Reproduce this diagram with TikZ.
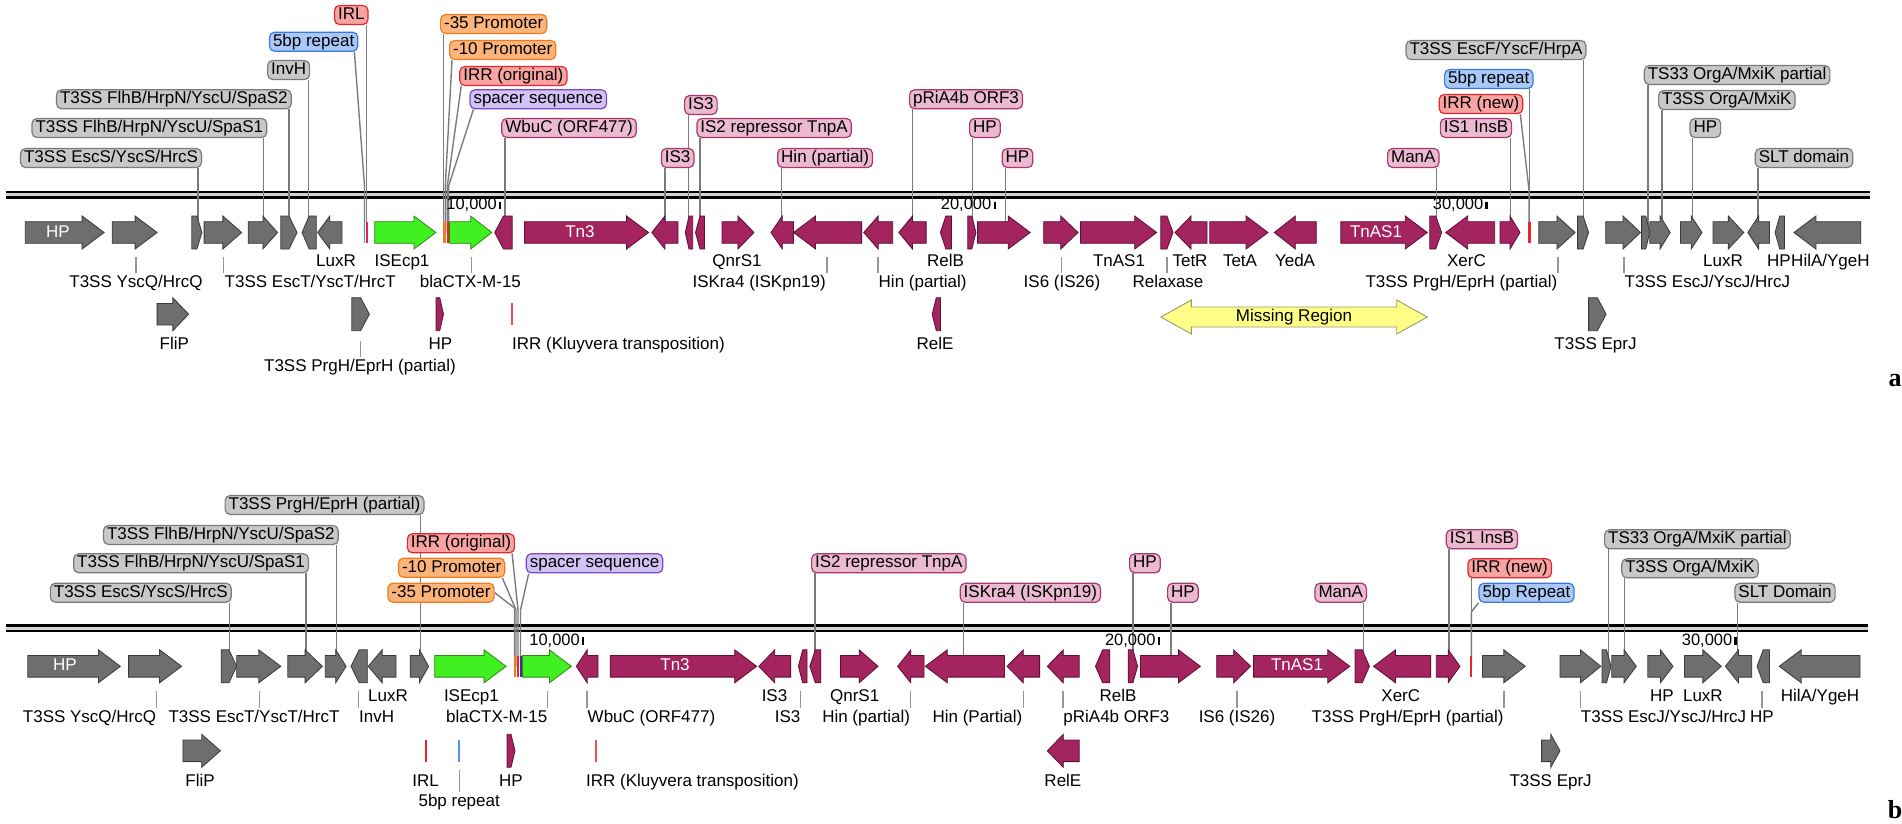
\documentclass[tikz,border=0pt]{standalone}
\usepackage{fontspec}
\setmainfont{Liberation Sans}
\newfontfamily\serifbf{Liberation Serif}
\usetikzlibrary{calc}
\pgfdeclarelayer{bg}
\pgfdeclarelayer{lead}
\pgfsetlayers{bg,lead,main}
\definecolor{gGrey}{HTML}{6E6E6E}
\definecolor{gGreyB}{HTML}{3A3A3A}
\definecolor{gMar}{HTML}{A3245E}
\definecolor{gMarB}{HTML}{5E0F34}
\definecolor{gGrn}{HTML}{40F020}
\definecolor{gGrnB}{HTML}{2C8A14}
\definecolor{lGreyF}{HTML}{C8C8C8}
\definecolor{lGreyB}{HTML}{7A7A7A}
\definecolor{lPinkF}{HTML}{EBB9D0}
\definecolor{lPinkB}{HTML}{A8386E}
\definecolor{lRedF}{HTML}{F9A3A3}
\definecolor{lRedB}{HTML}{E0282E}
\definecolor{lOrF}{HTML}{FDB47A}
\definecolor{lOrB}{HTML}{F07A20}
\definecolor{lBlueF}{HTML}{AAC8F7}
\definecolor{lBlueB}{HTML}{3C78DC}
\definecolor{lPurF}{HTML}{D5C2F5}
\definecolor{lPurB}{HTML}{7A48C8}
\definecolor{leadC}{HTML}{7C7C7C}
\definecolor{mRed}{HTML}{E8262B}
\definecolor{mBlue}{HTML}{5B8FF0}
\definecolor{mOr}{HTML}{F07A20}
\definecolor{mPur}{HTML}{4A2A90}
\definecolor{yelF}{HTML}{FFFF88}
\definecolor{yelB}{HTML}{9A9A70}
\newcommand\fs{\fontsize{17}{20}\selectfont}
\newcommand\fsn{\fontsize{16.5}{19}\selectfont}
\tikzset{
  gg/.style={fill=gGrey,draw=gGreyB,line width=0.8},
  gm/.style={fill=gMar,draw=gMarB,line width=0.8},
  gn/.style={fill=gGrn,draw=gGrnB,line width=0.8},
  lbase/.style={rounded corners=5pt,line width=1.2,inner xsep=3.5pt,inner ysep=1.5pt,text height=12.5pt,text depth=3.5pt,font=\fs},
  lgrey/.style={lbase,fill=lGreyF,draw=lGreyB},
  lpink/.style={lbase,fill=lPinkF,draw=lPinkB},
  lred/.style={lbase,fill=lRedF,draw=lRedB},
  lorange/.style={lbase,fill=lOrF,draw=lOrB},
  lblue/.style={lbase,fill=lBlueF,draw=lBlueB},
  lpurple/.style={lbase,fill=lPurF,draw=lPurB},
  lead/.style={draw=leadC,line width=1.4},
  ticklead/.style={draw=leadC!80,line width=1.3},
  txt/.style={inner sep=0pt,text height=12.5pt,text depth=3.5pt,font=\fs},
  gtext/.style={txt,text=white},
  numtxt/.style={inner sep=0pt,font=\fsn},
  ticknum/.style={line width=2.4},
  mred/.style={draw=mRed,line width=2.4},
  mredthin/.style={draw=mRed!80,line width=1.5},
  mblue/.style={draw=mBlue,line width=1.5},
  mor/.style={draw=mOr,line width=2.6},
  mpur/.style={draw=mPur,line width=2.2},
}
% right-pointing gene: x0 x1 y style
\newcommand\gr[4]{%
  \pgfmathsetmacro\gL{#2-(#1)}%
  \pgfmathsetmacro\gH{min(22,0.5*\gL)}%
  \pgfmathsetmacro\gB{#2-\gH}%
  \ifdim\gL pt<18pt
    \draw[#4] (#1,#3-16.5) -- (\gB,#3-16.5) -- (#2,#3) -- (\gB,#3+16.5) -- (#1,#3+16.5) -- cycle;
  \else
    \draw[#4] (#1,#3-10.8) -- (\gB,#3-10.8) -- (\gB,#3-16.5) -- (#2,#3) -- (\gB,#3+16.5) -- (\gB,#3+10.8) -- (#1,#3+10.8) -- cycle;
  \fi}
% left-pointing gene
\newcommand\gl[4]{%
  \pgfmathsetmacro\gL{#2-(#1)}%
  \pgfmathsetmacro\gH{min(22,0.5*\gL)}%
  \pgfmathsetmacro\gB{#1+\gH}%
  \ifdim\gL pt<18pt
    \draw[#4] (#2,#3-16.5) -- (\gB,#3-16.5) -- (#1,#3) -- (\gB,#3+16.5) -- (#2,#3+16.5) -- cycle;
  \else
    \draw[#4] (#2,#3-10.8) -- (\gB,#3-10.8) -- (\gB,#3-16.5) -- (#1,#3) -- (\gB,#3+16.5) -- (\gB,#3+10.8) -- (#2,#3+10.8) -- cycle;
  \fi}
\newcommand\mk[3]{\draw[#3] (#1,#2-10.8) -- (#1,#2+10.8);}
% top label with straight leader: name anchor x y style text leaderx geneY
\newcommand\tl[8]{%
  \node[#5,anchor=#2] (#1) at (#3,#4) {#6};
  \coordinate (#1-g) at (#7,#8);
  \begin{pgfonlayer}{lead}\draw[lead] (#1-g |- #1.south) -- (#1-g);\end{pgfonlayer}}
\newcommand\tn[6]{\node[#5,anchor=#2] (#1) at (#3,#4) {#6};}
\newcommand\tx[5]{\node[txt,anchor=#2] (#1) at (#3,#4) {#5};}
% label with tick: name anchor x y text tickx ticktop
\newcommand\rl[7]{%
  \node[txt,anchor=#2] (#1) at (#3,#4) {#5};
  \coordinate (#1-t) at (#6,#7);
  \draw[ticklead] (#1-t) -- ($(#1-t |- #1.north)+(0,-1.5)$);}
\begin{document}
\begin{tikzpicture}[x=1pt,y=-1pt]
\useasboundingbox (0,0) rectangle (1902,823);
% ---------------- background and backbones
\begin{pgfonlayer}{bg}
\fill[white] (0,0) rectangle (1902,823);
\fill[gray!35] (6,193) rectangle (1870,197);
\draw[line width=2.6] (6,192) -- (1870,192);
\draw[line width=2.6] (6,197.6) -- (1870,197.6);
\fill[gray!35] (6,626.5) rectangle (1868,630.5);
\draw[line width=2.6] (6,625.5) -- (1868,625.5);
\draw[line width=2.6] (6,631.1) -- (1868,631.1);
\end{pgfonlayer}
% scale numbers
\node[numtxt,anchor=east] (an1) at (497,205) {10,000};
\draw[ticknum] (500,201.5) -- (500,208.5);
\node[numtxt,anchor=east] (an2) at (991.5,205) {20,000};
\draw[ticknum] (994.7,201.5) -- (994.7,208.5);
\node[numtxt,anchor=east] (an3) at (1483.5,205) {30,000};
\draw[ticknum] (1486.5,201.5) -- (1486.5,208.5);
\node[numtxt,anchor=east] (bn1) at (580,641) {10,000};
\draw[ticknum] (582.9,636.5) -- (582.9,644.5);
\node[numtxt,anchor=east] (bn2) at (1155.7,641) {20,000};
\draw[ticknum] (1158.8,636.5) -- (1158.8,644.5);
\node[numtxt,anchor=east] (bn3) at (1732.5,641) {30,000};
\draw[ticknum] (1735.5,636.5) -- (1735.5,644.5);

% ================= PANEL A top labels
\tl{aIRL}{east}{368.6}{15}{lred}{IRL}{366.6}{232.5}
\tl{aP35}{west}{440}{24}{lorange}{-35 Promoter}{443.5}{232.5}
\tn{aRep5}{east}{358.4}{41.7}{lblue}{5bp repeat}
\tn{aP10}{west}{449}{50}{lorange}{-10 Promoter}
\tl{aInvH}{east}{310.2}{70}{lgrey}{InvH}{308.6}{232.5}
\tn{aIRRo}{west}{459.2}{76}{lred}{IRR (original)}
\tl{aSpaS2}{east}{291.8}{99.3}{lgrey}{T3SS FlhB/HrpN/YscU/SpaS2}{289}{232.5}
\tn{aSpc}{west}{469.4}{99.3}{lpurple}{spacer sequence}
\tl{aSpaS1}{east}{267.3}{128}{lgrey}{T3SS FlhB/HrpN/YscU/SpaS1}{263.3}{232.5}
\tl{aWbuC}{west}{501.2}{128}{lpink}{WbuC (ORF477)}{504.9}{232.5}
\tl{aEscS}{east}{202}{158}{lgrey}{T3SS EscS/YscS/HrcS}{198}{232.5}
\tl{aIS3u}{west}{684}{105}{lpink}{IS3}{688.2}{232.5}
\tl{aIS3l}{west}{660.8}{158}{lpink}{IS3}{664.9}{232.5}
\tl{aIS2}{west}{696.3}{128}{lpink}{IS2 repressor TnpA}{700}{232.5}
\tl{aHin}{west}{777.1}{158}{lpink}{Hin (partial)}{781.2}{232.5}
\tl{aORF3}{west}{909}{99.3}{lpink}{pRiA4b ORF3}{912.2}{232.5}
\tl{aHPt1}{west}{969}{128}{lpink}{HP}{972.7}{232.5}
\tl{aHPt2}{west}{1001.6}{158}{lpink}{HP}{1005.3}{232.5}
\tl{aEscF}{east}{1586.5}{50}{lgrey}{T3SS EscF/YscF/HrpA}{1583.7}{232.5}
\tl{aRep5r}{east}{1533.5}{79}{lblue}{5bp repeat}{1529.4}{232.5}
\tn{aIRRn}{east}{1523.3}{104}{lred}{IRR (new)}
\tl{aIS1}{east}{1512.2}{128}{lpink}{IS1 InsB}{1510.2}{232.5}
\tl{aManA}{east}{1439.6}{158}{lpink}{ManA}{1436.3}{232.5}
\tl{aTS33}{west}{1643.7}{75}{lgrey}{TS33 OrgA/MxiK partial}{1647.8}{232.5}
\tl{aOrgA}{west}{1658}{100}{lgrey}{T3SS OrgA/MxiK}{1662}{232.5}
\tl{aHPt3}{west}{1689.4}{128}{lgrey}{HP}{1692.7}{232.5}
\tl{aSLT}{west}{1754.7}{158}{lgrey}{SLT domain}{1758}{232.5}
\begin{pgfonlayer}{lead}
\draw[lead] ($(aRep5.south east)+(-4,0)$) -- (364.5,186) -- (364.5,232.5);
\draw[lead] ($(aP10.south west)+(3,0)$) -- (445.3,186) -- (445.3,232.5);
\draw[lead] ($(aIRRo.south west)+(2,0)$) -- (447.3,186) -- (447.3,232.5);
\draw[lead] ($(aSpc.south west)+(4,0)$) -- (448.6,186) -- (448.6,232.5);
\draw[lead] ($(aIRRn.south east)+(-3,0)$) -- (1529,190) -- (1529,232.5);
\end{pgfonlayer}

% ================= PANEL A genes row 1
\gr{25.3}{104.1}{232.5}{gg}
\gr{112.2}{157.1}{232.5}{gg}
\gr{191.8}{202}{232.5}{gg}
\gr{204.1}{241.6}{232.5}{gg}
\gr{248.2}{277.6}{232.5}{gg}
\gr{280.8}{297.1}{232.5}{gg}
\gl{302}{316.3}{232.5}{gg}
\gl{317.6}{342}{232.5}{gg}
\mk{364.5}{232.5}{mblue}
\mk{366.8}{232.5}{mred}
\gr{374.7}{435.9}{232.5}{gn}
\mk{444.3}{232.5}{mor}
\mk{447.9}{232.5}{mred}
\gr{449.5}{491.8}{232.5}{gn}
\gl{494.7}{512.2}{232.5}{gm}
\gr{524.5}{648.6}{232.5}{gm}
\gl{651.8}{678}{232.5}{gm}
\gl{685.3}{692.7}{232.5}{gm}
\gl{695.5}{704.5}{232.5}{gm}
\gr{722}{753.9}{232.5}{gm}
\gl{771}{793.5}{232.5}{gm}
\gl{793.5}{861.6}{232.5}{gm}
\gl{863.7}{892.7}{232.5}{gm}
\gl{898.8}{926.1}{232.5}{gm}
\gl{940.4}{951.4}{232.5}{gm}
\gr{967.8}{975.9}{232.5}{gm}
\gr{977.6}{1030.2}{232.5}{gm}
\gr{1043.7}{1078}{232.5}{gm}
\gr{1080.4}{1156.7}{232.5}{gm}
\gr{1160.8}{1173}{232.5}{gm}
\gl{1175}{1207}{232.5}{gm}
\gr{1209.8}{1268}{232.5}{gm}
\gl{1274.3}{1316.3}{232.5}{gm}
\gr{1340.8}{1427.3}{232.5}{gm}
\gr{1429.8}{1441.6}{232.5}{gm}
\gl{1445.7}{1494.7}{232.5}{gm}
\gr{1500}{1520}{232.5}{gm}
\mk{1529.4}{232.5}{mred}
\gr{1538.8}{1575.1}{232.5}{gg}
\gr{1577.6}{1588.6}{232.5}{gg}
\gr{1605.7}{1640.4}{232.5}{gg}
\gr{1641.6}{1649.8}{232.5}{gg}
\gr{1649.8}{1670.2}{232.5}{gg}
\gr{1680.4}{1702}{232.5}{gg}
\gr{1713}{1743.7}{232.5}{gg}
\gl{1747.8}{1769.4}{232.5}{gg}
\gl{1775}{1784.5}{232.5}{gg}
\gl{1793.9}{1860.8}{232.5}{gg}
\node[gtext] (aHPg) at (58,232.5) {HP};
\node[gtext] (aTn3g) at (580,232.5) {Tn3};
\node[gtext] (aTnASg) at (1376,232.5) {TnAS1};
% row 2 genes
\gr{157.1}{188.6}{314.2}{gg}
\gr{351.8}{369.4}{314.2}{gg}
\gr{436}{443.5}{314.2}{gm}
\mk{512.2}{314.2}{mredthin}
\gl{932.2}{940.4}{314.2}{gm}
\gr{1588.6}{1606.1}{314.2}{gg}
\draw[fill=yelF,draw=yelB,line width=0.9] (1160.8,317) -- (1191.4,300) -- (1191.4,307) -- (1396.7,307) -- (1396.7,300) -- (1427.3,317) -- (1396.7,334) -- (1396.7,327) -- (1191.4,327) -- (1191.4,334) -- cycle;
\node[txt] (aMiss) at (1294,317) {Missing Region};
% labels row 1
\tx{aLuxR1}{center}{336}{262}{LuxR}
\tx{aISEcp}{center}{402}{262}{ISEcp1}
\tx{aQnr}{center}{737}{262}{QnrS1}
\tx{aRelB}{center}{945.6}{262}{RelB}
\tx{aTnAS}{center}{1119}{262}{TnAS1}
\tx{aTetR}{center}{1190}{262}{TetR}
\tx{aTetA}{center}{1240}{262}{TetA}
\tx{aYedA}{center}{1295}{262}{YedA}
\tx{aXerC}{center}{1466.5}{262}{XerC}
\tx{aLuxR2}{center}{1723}{262}{LuxR}
\tx{aHPr}{east}{1791}{262}{HP}
\tx{aHilA}{west}{1791}{262}{HilA/YgeH}
% labels row 2 with ticks
\rl{aYscQ}{center}{136}{282.5}{T3SS YscQ/HrcQ}{135.9}{257}
\rl{aEscT}{west}{224.5}{282.5}{T3SS EscT/YscT/HrcT}{223.7}{257}
\rl{aBla}{center}{470.4}{282.5}{blaCTX-M-15}{471.4}{257}
\rl{aISKra}{east}{826}{282.5}{ISKra4 (ISKpn19)}{827}{257}
\rl{aHinP}{west}{878.5}{282.5}{Hin (partial)}{878}{257}
\rl{aIS6}{center}{1062}{282.5}{IS6 (IS26)}{1061.6}{257}
\rl{aRelax}{center}{1168}{282.5}{Relaxase}{1167}{257}
\rl{aPrgH}{east}{1557.5}{282.5}{T3SS PrgH/EprH (partial)}{1558}{257}
\rl{aEscJ}{west}{1624.5}{282.5}{T3SS EscJ/YscJ/HrcJ}{1624}{257}
% labels rows 3-4
\tx{aFliP}{center}{174.3}{345}{FliP}
\tx{aHPs}{center}{440.5}{345}{HP}
\tx{aIRRk}{west}{512}{345}{IRR (Kluyvera transposition)}
\tx{aRelE}{center}{935}{345}{RelE}
\tx{aEprJ}{center}{1595.5}{345}{T3SS EprJ}
\rl{aPrgH2}{center}{360}{366.7}{T3SS PrgH/EprH (partial)}{360.4}{341}
\node[font=\serifbf\bfseries\fontsize{26}{26}\selectfont,inner sep=0pt] (pa) at (1895,381) {a};

% ================= PANEL B top labels
\tl{bPrgH}{east}{424.5}{505}{lgrey}{T3SS PrgH/EprH (partial)}{420.4}{666.3}
\tl{bSpaS2}{east}{338.8}{535}{lgrey}{T3SS FlhB/HrpN/YscU/SpaS2}{336.7}{666.3}
\tl{bSpaS1}{east}{309}{563.3}{lgrey}{T3SS FlhB/HrpN/YscU/SpaS1}{306.1}{666.3}
\tl{bEscS}{east}{231.8}{592.7}{lgrey}{T3SS EscS/YscS/HrcS}{229.4}{666.3}
\tn{bIRRo}{east}{515.1}{543.3}{lred}{IRR (original)}
\tn{bP10}{east}{505.3}{567.7}{lorange}{-10 Promoter}
\tn{bP35}{east}{494.7}{592.7}{lorange}{-35 Promoter}
\tn{bSpc}{west}{525.7}{563.3}{lpurple}{spacer sequence}
\tl{bIS2}{west}{811}{563.3}{lpink}{IS2 repressor TnpA}{815.1}{666.3}
\tl{bISKra}{west}{959.6}{592.7}{lpink}{ISKra4 (ISKpn19)}{963.7}{666.3}
\tl{bHPt1}{west}{1129}{563.3}{lpink}{HP}{1133.1}{666.3}
\tl{bHPt2}{west}{1167}{592.7}{lpink}{HP}{1171}{666.3}
\tl{bManA}{east}{1367}{592.7}{lpink}{ManA}{1363.3}{666.3}
\tl{bIS1}{west}{1445.7}{539.3}{lpink}{IS1 InsB}{1449}{666.3}
\tl{bIRRn}{west}{1467.3}{568.3}{lred}{IRR (new)}{1471.4}{666.3}
\tn{bRep5}{west}{1478.4}{592.7}{lblue}{5bp Repeat}
\tl{bTS33}{west}{1604}{539.3}{lgrey}{TS33 OrgA/MxiK partial}{1608.2}{666.3}
\tl{bOrgA}{west}{1621.2}{568.3}{lgrey}{T3SS OrgA/MxiK}{1624.5}{666.3}
\tl{bSLT}{west}{1734.3}{592.7}{lgrey}{SLT Domain}{1737.6}{666.3}
\begin{pgfonlayer}{lead}
\draw[lead] ($(bIRRo.south east)+(-3,0)$) -- (518,610) -- (518,666.3);
\draw[lead] ($(bP10.south east)+(-3,0)$) -- (516,610) -- (516,666.3);
\draw[lead] (bP35.east) -- (514.5,608) -- (514.5,666.3);
\draw[lead] ($(bSpc.south west)+(3,0)$) -- (520.5,610) -- (520.5,666.3);
\draw[lead] (bRep5.south west) -- (1471.4,612) -- (1471.4,666.3);
\end{pgfonlayer}

% ================= PANEL B genes row 1
\gr{27.8}{120.4}{666.3}{gg}
\gr{128.6}{181.6}{666.3}{gg}
\gr{221.2}{236.7}{666.3}{gg}
\gr{236.7}{280.8}{666.3}{gg}
\gr{287.8}{322.4}{666.3}{gg}
\gr{325.3}{346.1}{666.3}{gg}
\gl{351}{367.3}{666.3}{gg}
\gl{368.2}{396}{666.3}{gg}
\gr{410.2}{428.6}{666.3}{gg}
\gr{434.7}{506.1}{666.3}{gn}
\mk{515}{666.3}{mor}
\mk{518}{666.3}{mred}
\mk{520.8}{666.3}{mpur}
\gr{522.4}{571.4}{666.3}{gn}
\gl{576.3}{598}{666.3}{gm}
\gr{610.2}{756.7}{666.3}{gm}
\gl{758.8}{790.6}{666.3}{gm}
\gl{798.4}{807}{666.3}{gm}
\gl{809.8}{820.8}{666.3}{gm}
\gr{840.4}{878}{666.3}{gm}
\gl{897.6}{924}{666.3}{gm}
\gl{925.3}{1004.5}{666.3}{gm}
\gl{1007}{1039.6}{666.3}{gm}
\gl{1047.3}{1079.2}{666.3}{gm}
\gl{1095.5}{1109.8}{666.3}{gm}
\gr{1128.2}{1137.6}{666.3}{gm}
\gr{1140.4}{1200.4}{666.3}{gm}
\gr{1216.7}{1250.6}{666.3}{gm}
\gr{1253.5}{1349.8}{666.3}{gm}
\gr{1355}{1369.4}{666.3}{gm}
\gl{1373.5}{1430.6}{666.3}{gm}
\gr{1436.3}{1460}{666.3}{gm}
\mk{1471}{666.3}{mred}
\gr{1482.4}{1525.3}{666.3}{gg}
\gr{1560}{1600.8}{666.3}{gg}
\gr{1602}{1611}{666.3}{gg}
\gr{1611.8}{1636.3}{666.3}{gg}
\gr{1647.8}{1673}{666.3}{gg}
\gr{1684.5}{1721.2}{666.3}{gg}
\gl{1725.3}{1751.8}{666.3}{gg}
\gl{1757}{1769.4}{666.3}{gg}
\gl{1779.2}{1860}{666.3}{gg}
\node[gtext] (bHPg) at (65,666.3) {HP};
\node[gtext] (bTn3g) at (675,666.3) {Tn3};
\node[gtext] (bTnASg) at (1297,666.3) {TnAS1};
% row 2 genes
\gr{182.9}{220.4}{750.8}{gg}
\mk{425.7}{750.8}{mred}
\mk{459.2}{750.8}{mblue}
\gr{507}{515}{750.8}{gm}
\mk{596}{750.8}{mredthin}
\gl{1047.3}{1079.2}{750.8}{gm}
\gr{1541.6}{1560}{750.8}{gg}
% labels row 1
\tx{bLuxR1}{center}{388}{696.7}{LuxR}
\tx{bISEcp}{center}{471.4}{696.7}{ISEcp1}
\tx{bIS3a}{center}{774.5}{696.7}{IS3}
\tx{bQnr}{center}{854.7}{696.7}{QnrS1}
\tx{bRelB}{center}{1118}{696.7}{RelB}
\tx{bXerC}{center}{1400.8}{696.7}{XerC}
\tx{bHPr1}{center}{1662}{696.7}{HP}
\tx{bLuxR2}{center}{1702.9}{696.7}{LuxR}
\tx{bHilA}{center}{1820}{696.7}{HilA/YgeH}
% labels row 2 with ticks
\rl{bYscQ}{east}{156.3}{717.7}{T3SS YscQ/HrcQ}{156.3}{690.5}
\rl{bEscT}{center}{254}{717.7}{T3SS EscT/YscT/HrcT}{259.2}{690.5}
\rl{bInvH}{west}{359}{717.7}{InvH}{358.4}{690.5}
\rl{bBla}{east}{547.5}{717.7}{blaCTX-M-15}{547.8}{690.5}
\rl{bWbuC}{west}{587.5}{717.7}{WbuC (ORF477)}{587}{690.5}
\rl{bIS3b}{east}{800.5}{717.7}{IS3}{800.8}{690.5}
\rl{bHin1}{east}{910.3}{717.7}{Hin (partial)}{910.6}{690.5}
\rl{bHin2}{east}{1022.5}{717.7}{Hin (Partial)}{1023.3}{690.5}
\rl{bORF3}{west}{1063.2}{717.7}{pRiA4b ORF3}{1062.9}{690.5}
\rl{bIS6}{center}{1237}{717.7}{IS6 (IS26)}{1237.1}{690.5}
\rl{bPrgH2}{east}{1503.7}{717.7}{T3SS PrgH/EprH (partial)}{1504}{690.5}
\rl{bEscJ}{west}{1580.7}{717.7}{T3SS EscJ/YscJ/HrcJ}{1580.4}{690.5}
\rl{bHPr2}{center}{1762}{717.7}{HP}{1762}{690.5}
% rows 3-4
\tx{bFliP}{center}{200}{781.7}{FliP}
\tx{bIRL}{center}{425.7}{781.7}{IRL}
\tx{bHPs}{center}{511}{781.7}{HP}
\tx{bIRRk}{west}{586}{781.7}{IRR (Kluyvera transposition)}
\tx{bRelE}{center}{1062.9}{781.7}{RelE}
\tx{bEprJ}{center}{1550.6}{781.7}{T3SS EprJ}
\rl{bRep5s}{center}{459.2}{801.7}{5bp repeat}{459.2}{770}
\node[font=\serifbf\bfseries\fontsize{26}{26}\selectfont,inner sep=0pt] (pb) at (1895,810) {b};
\end{tikzpicture}
\end{document}
